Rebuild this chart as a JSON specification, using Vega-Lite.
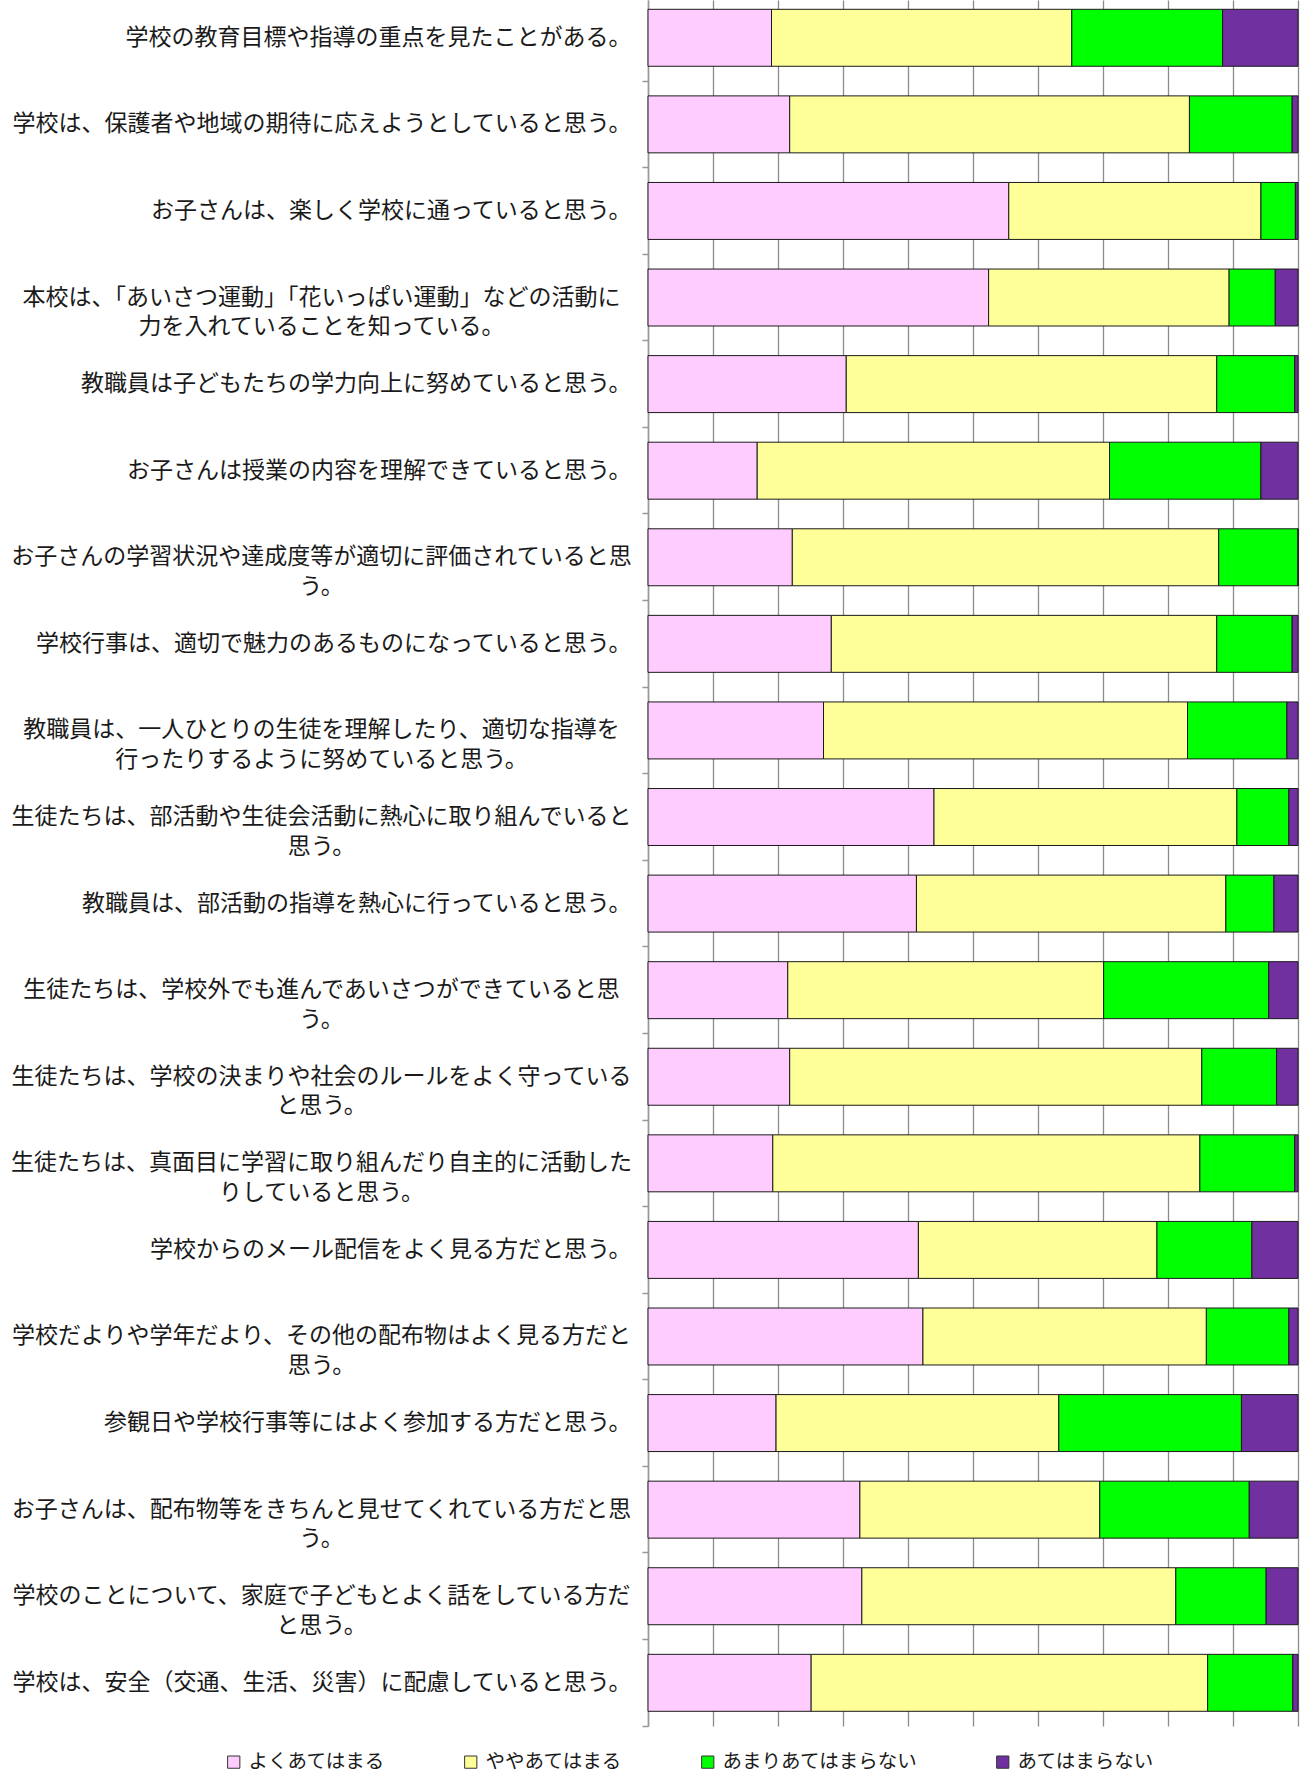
{
  "$schema": "https://vega.github.io/schema/vega-lite/v6.json",
  "width": 650,
  "height": 1726,
  "autosize": {"type": "none"},
  "padding": {"left": 648, "top": 0, "right": 12, "bottom": 49},
  "background": "white",
  "config": {"view": {"stroke": null}, "font": "Noto Sans CJK JP"},
  "data": {"values": [
    {"q": "学校の教育目標や指導の重点を見たことがある。", "s": "よくあてはまる", "o": 1, "v": 19.0},
    {"q": "学校の教育目標や指導の重点を見たことがある。", "s": "ややあてはまる", "o": 2, "v": 46.2},
    {"q": "学校の教育目標や指導の重点を見たことがある。", "s": "あまりあてはまらない", "o": 3, "v": 23.2},
    {"q": "学校の教育目標や指導の重点を見たことがある。", "s": "あてはまらない", "o": 4, "v": 11.6},
    {"q": "学校は、保護者や地域の期待に応えようとしていると思う。", "s": "よくあてはまる", "o": 1, "v": 21.8},
    {"q": "学校は、保護者や地域の期待に応えようとしていると思う。", "s": "ややあてはまる", "o": 2, "v": 61.5},
    {"q": "学校は、保護者や地域の期待に応えようとしていると思う。", "s": "あまりあてはまらない", "o": 3, "v": 15.8},
    {"q": "学校は、保護者や地域の期待に応えようとしていると思う。", "s": "あてはまらない", "o": 4, "v": 0.9},
    {"q": "お子さんは、楽しく学校に通っていると思う。", "s": "よくあてはまる", "o": 1, "v": 55.5},
    {"q": "お子さんは、楽しく学校に通っていると思う。", "s": "ややあてはまる", "o": 2, "v": 38.8},
    {"q": "お子さんは、楽しく学校に通っていると思う。", "s": "あまりあてはまらない", "o": 3, "v": 5.3},
    {"q": "お子さんは、楽しく学校に通っていると思う。", "s": "あてはまらない", "o": 4, "v": 0.4},
    {"q": "本校は、「あいさつ運動」「花いっぱい運動」などの活動に|力を入れていることを知っている。", "s": "よくあてはまる", "o": 1, "v": 52.4},
    {"q": "本校は、「あいさつ運動」「花いっぱい運動」などの活動に|力を入れていることを知っている。", "s": "ややあてはまる", "o": 2, "v": 37.0},
    {"q": "本校は、「あいさつ運動」「花いっぱい運動」などの活動に|力を入れていることを知っている。", "s": "あまりあてはまらない", "o": 3, "v": 7.1},
    {"q": "本校は、「あいさつ運動」「花いっぱい運動」などの活動に|力を入れていることを知っている。", "s": "あてはまらない", "o": 4, "v": 3.5},
    {"q": "教職員は子どもたちの学力向上に努めていると思う。", "s": "よくあてはまる", "o": 1, "v": 30.5},
    {"q": "教職員は子どもたちの学力向上に努めていると思う。", "s": "ややあてはまる", "o": 2, "v": 57.0},
    {"q": "教職員は子どもたちの学力向上に努めていると思う。", "s": "あまりあてはまらない", "o": 3, "v": 12.0},
    {"q": "教職員は子どもたちの学力向上に努めていると思う。", "s": "あてはまらない", "o": 4, "v": 0.5},
    {"q": "お子さんは授業の内容を理解できていると思う。", "s": "よくあてはまる", "o": 1, "v": 16.8},
    {"q": "お子さんは授業の内容を理解できていると思う。", "s": "ややあてはまる", "o": 2, "v": 54.2},
    {"q": "お子さんは授業の内容を理解できていると思う。", "s": "あまりあてはまらない", "o": 3, "v": 23.3},
    {"q": "お子さんは授業の内容を理解できていると思う。", "s": "あてはまらない", "o": 4, "v": 5.7},
    {"q": "お子さんの学習状況や達成度等が適切に評価されていると思|う。", "s": "よくあてはまる", "o": 1, "v": 22.2},
    {"q": "お子さんの学習状況や達成度等が適切に評価されていると思|う。", "s": "ややあてはまる", "o": 2, "v": 65.6},
    {"q": "お子さんの学習状況や達成度等が適切に評価されていると思|う。", "s": "あまりあてはまらない", "o": 3, "v": 12.2},
    {"q": "お子さんの学習状況や達成度等が適切に評価されていると思|う。", "s": "あてはまらない", "o": 4, "v": 0.0},
    {"q": "学校行事は、適切で魅力のあるものになっていると思う。", "s": "よくあてはまる", "o": 1, "v": 28.2},
    {"q": "学校行事は、適切で魅力のあるものになっていると思う。", "s": "ややあてはまる", "o": 2, "v": 59.3},
    {"q": "学校行事は、適切で魅力のあるものになっていると思う。", "s": "あまりあてはまらない", "o": 3, "v": 11.6},
    {"q": "学校行事は、適切で魅力のあるものになっていると思う。", "s": "あてはまらない", "o": 4, "v": 0.9},
    {"q": "教職員は、一人ひとりの生徒を理解したり、適切な指導を|行ったりするように努めていると思う。", "s": "よくあてはまる", "o": 1, "v": 27.0},
    {"q": "教職員は、一人ひとりの生徒を理解したり、適切な指導を|行ったりするように努めていると思う。", "s": "ややあてはまる", "o": 2, "v": 56.0},
    {"q": "教職員は、一人ひとりの生徒を理解したり、適切な指導を|行ったりするように努めていると思う。", "s": "あまりあてはまらない", "o": 3, "v": 15.3},
    {"q": "教職員は、一人ひとりの生徒を理解したり、適切な指導を|行ったりするように努めていると思う。", "s": "あてはまらない", "o": 4, "v": 1.7},
    {"q": "生徒たちは、部活動や生徒会活動に熱心に取り組んでいると|思う。", "s": "よくあてはまる", "o": 1, "v": 44.0},
    {"q": "生徒たちは、部活動や生徒会活動に熱心に取り組んでいると|思う。", "s": "ややあてはまる", "o": 2, "v": 46.6},
    {"q": "生徒たちは、部活動や生徒会活動に熱心に取り組んでいると|思う。", "s": "あまりあてはまらない", "o": 3, "v": 8.0},
    {"q": "生徒たちは、部活動や生徒会活動に熱心に取り組んでいると|思う。", "s": "あてはまらない", "o": 4, "v": 1.4},
    {"q": "教職員は、部活動の指導を熱心に行っていると思う。", "s": "よくあてはまる", "o": 1, "v": 41.3},
    {"q": "教職員は、部活動の指導を熱心に行っていると思う。", "s": "ややあてはまる", "o": 2, "v": 47.6},
    {"q": "教職員は、部活動の指導を熱心に行っていると思う。", "s": "あまりあてはまらない", "o": 3, "v": 7.4},
    {"q": "教職員は、部活動の指導を熱心に行っていると思う。", "s": "あてはまらない", "o": 4, "v": 3.7},
    {"q": "生徒たちは、学校外でも進んであいさつができていると思|う。", "s": "よくあてはまる", "o": 1, "v": 21.5},
    {"q": "生徒たちは、学校外でも進んであいさつができていると思|う。", "s": "ややあてはまる", "o": 2, "v": 48.6},
    {"q": "生徒たちは、学校外でも進んであいさつができていると思|う。", "s": "あまりあてはまらない", "o": 3, "v": 25.4},
    {"q": "生徒たちは、学校外でも進んであいさつができていると思|う。", "s": "あてはまらない", "o": 4, "v": 4.5},
    {"q": "生徒たちは、学校の決まりや社会のルールをよく守っている|と思う。", "s": "よくあてはまる", "o": 1, "v": 21.8},
    {"q": "生徒たちは、学校の決まりや社会のルールをよく守っている|と思う。", "s": "ややあてはまる", "o": 2, "v": 63.4},
    {"q": "生徒たちは、学校の決まりや社会のルールをよく守っている|と思う。", "s": "あまりあてはまらない", "o": 3, "v": 11.5},
    {"q": "生徒たちは、学校の決まりや社会のルールをよく守っている|と思う。", "s": "あてはまらない", "o": 4, "v": 3.3},
    {"q": "生徒たちは、真面目に学習に取り組んだり自主的に活動した|りしていると思う。", "s": "よくあてはまる", "o": 1, "v": 19.2},
    {"q": "生徒たちは、真面目に学習に取り組んだり自主的に活動した|りしていると思う。", "s": "ややあてはまる", "o": 2, "v": 65.7},
    {"q": "生徒たちは、真面目に学習に取り組んだり自主的に活動した|りしていると思う。", "s": "あまりあてはまらない", "o": 3, "v": 14.6},
    {"q": "生徒たちは、真面目に学習に取り組んだり自主的に活動した|りしていると思う。", "s": "あてはまらない", "o": 4, "v": 0.5},
    {"q": "学校からのメール配信をよく見る方だと思う。", "s": "よくあてはまる", "o": 1, "v": 41.6},
    {"q": "学校からのメール配信をよく見る方だと思う。", "s": "ややあてはまる", "o": 2, "v": 36.7},
    {"q": "学校からのメール配信をよく見る方だと思う。", "s": "あまりあてはまらない", "o": 3, "v": 14.6},
    {"q": "学校からのメール配信をよく見る方だと思う。", "s": "あてはまらない", "o": 4, "v": 7.1},
    {"q": "学校だよりや学年だより、その他の配布物はよく見る方だと|思う。", "s": "よくあてはまる", "o": 1, "v": 42.3},
    {"q": "学校だよりや学年だより、その他の配布物はよく見る方だと|思う。", "s": "ややあてはまる", "o": 2, "v": 43.6},
    {"q": "学校だよりや学年だより、その他の配布物はよく見る方だと|思う。", "s": "あまりあてはまらない", "o": 3, "v": 12.7},
    {"q": "学校だよりや学年だより、その他の配布物はよく見る方だと|思う。", "s": "あてはまらない", "o": 4, "v": 1.4},
    {"q": "参観日や学校行事等にはよく参加する方だと思う。", "s": "よくあてはまる", "o": 1, "v": 19.7},
    {"q": "参観日や学校行事等にはよく参加する方だと思う。", "s": "ややあてはまる", "o": 2, "v": 43.5},
    {"q": "参観日や学校行事等にはよく参加する方だと思う。", "s": "あまりあてはまらない", "o": 3, "v": 28.1},
    {"q": "参観日や学校行事等にはよく参加する方だと思う。", "s": "あてはまらない", "o": 4, "v": 8.7},
    {"q": "お子さんは、配布物等をきちんと見せてくれている方だと思|う。", "s": "よくあてはまる", "o": 1, "v": 32.6},
    {"q": "お子さんは、配布物等をきちんと見せてくれている方だと思|う。", "s": "ややあてはまる", "o": 2, "v": 36.9},
    {"q": "お子さんは、配布物等をきちんと見せてくれている方だと思|う。", "s": "あまりあてはまらない", "o": 3, "v": 23.0},
    {"q": "お子さんは、配布物等をきちんと見せてくれている方だと思|う。", "s": "あてはまらない", "o": 4, "v": 7.5},
    {"q": "学校のことについて、家庭で子どもとよく話をしている方だ|と思う。", "s": "よくあてはまる", "o": 1, "v": 32.9},
    {"q": "学校のことについて、家庭で子どもとよく話をしている方だ|と思う。", "s": "ややあてはまる", "o": 2, "v": 48.3},
    {"q": "学校のことについて、家庭で子どもとよく話をしている方だ|と思う。", "s": "あまりあてはまらない", "o": 3, "v": 13.9},
    {"q": "学校のことについて、家庭で子どもとよく話をしている方だ|と思う。", "s": "あてはまらない", "o": 4, "v": 4.9},
    {"q": "学校は、安全（交通、生活、災害）に配慮していると思う。", "s": "よくあてはまる", "o": 1, "v": 25.1},
    {"q": "学校は、安全（交通、生活、災害）に配慮していると思う。", "s": "ややあてはまる", "o": 2, "v": 61.0},
    {"q": "学校は、安全（交通、生活、災害）に配慮していると思う。", "s": "あまりあてはまらない", "o": 3, "v": 13.1},
    {"q": "学校は、安全（交通、生活、災害）に配慮していると思う。", "s": "あてはまらない", "o": 4, "v": 0.8}
  ]},
  "mark": {"type": "bar", "stroke": "#1a1a1a", "strokeWidth": 1},
  "encoding": {
    "y": {
      "field": "q", "type": "nominal", "sort": null,
      "scale": {"paddingInner": 0.342, "paddingOuter": 0.1386, "align": 0.3875},
      "axis": {
        "title": null,
        "labelExpr": "split(datum.label, '|')",
        "labelFont": "Noto Sans CJK JP",
        "labelFontSize": 23,
        "labelColor": "#1a1a1a",
        "labelLimit": 800,
        "labelLineHeight": 29.5,
        "labelOverlap": false,
        "labelBaseline": "middle",
        "labelAlign": {"condition": {"test": "indexof(datum.value, '|') >= 0", "value": "center"}, "value": "right"},
        "labelPadding": {"condition": {"test": "indexof(datum.value, '|') >= 0", "value": 321}, "value": 11},
        "bandPosition": 1.26,
        "tickSize": 6,
        "tickColor": "#999999",
        "tickWidth": 1.5,
        "domainColor": "#999999",
        "domainWidth": 1.5,
        "grid": false
      }
    },
    "x": {
      "field": "v", "type": "quantitative", "stack": "normalize",
      "scale": {"domain": [0, 1]},
      "axis": {
        "title": null, "labels": false, "ticks": false, "domain": false,
        "grid": true, "gridColor": "#8c8c8c", "gridWidth": 1.3,
        "values": [0, 0.1, 0.2, 0.3, 0.4, 0.5, 0.6, 0.7, 0.8, 0.9, 1]
      }
    },
    "color": {
      "field": "s", "type": "nominal",
      "scale": {
        "domain": ["よくあてはまる", "ややあてはまる", "あまりあてはまらない", "あてはまらない"],
        "range": ["#FFCCFF", "#FFFF99", "#00FF00", "#7030A0"]
      },
      "legend": {
        "orient": "none", "direction": "horizontal",
        "legendX": -424, "legendY": 1752,
        "title": null,
        "symbolType": "square", "symbolSize": 150,
        "symbolStrokeColor": "#333333", "symbolStrokeWidth": 1,
        "labelFont": "Noto Sans CJK JP", "labelFontSize": 19.5, "labelColor": "#1a1a1a",
        "labelOffset": 5, "labelLimit": 400, "columnPadding": 75
      }
    },
    "order": {"field": "o", "type": "quantitative"}
  }
}
